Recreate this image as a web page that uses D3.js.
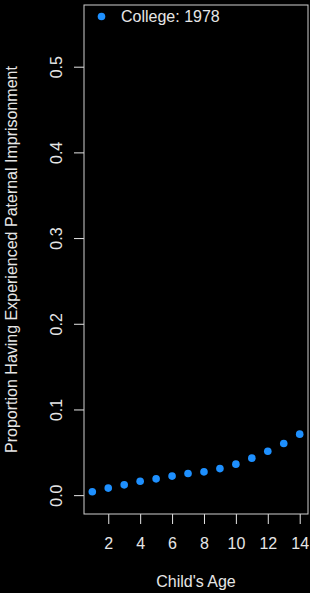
<!DOCTYPE html>
<html>
<head>
<meta charset="utf-8">
<script src="https://cdn.jsdelivr.net/npm/d3@7"></script>
<style>
  body { margin: 0; background: #000; }
  svg { display: block; font-family: "Liberation Sans", Arial, sans-serif; }
</style>
</head>
<body>
<div id="chart"></div>
<script>
// data
var ages = [1, 2, 3, 4, 5, 6, 7, 8, 9, 10, 11, 12, 13, 14];
var proportion = [0.0039, 0.0082, 0.0120, 0.0163, 0.0190, 0.0222, 0.0253, 0.0272, 0.0310, 0.0362, 0.0432, 0.0513, 0.0603, 0.0712];
var xTicks = [2, 4, 6, 8, 10, 12, 14];
var yTicks = [0, 0.1, 0.2, 0.3, 0.4, 0.5];
var seriesName = "College: 1978";

var svg_width = 310, svg_height = 593;
var svg = d3.select("#chart").append("svg")
    .attr("width", svg_width)
    .attr("height", svg_height);

svg.append("rect")
    .attr("width", svg_width)
    .attr("height", svg_height)
    .attr("fill", "#000");

var box = {left: 84, right: 308, top: 5, bottom: 514};

// R style 4% padding around xlim c(1,14) and ylim c(0,0.55)
var x = d3.scaleLinear().domain([0.48, 14.52]).range([box.left, box.right]);
var y = d3.scaleLinear().domain([-0.022, 0.572]).range([box.bottom, box.top]);

var fg = "#e6e6e6";

// x axis
var gx = svg.append("g")
    .attr("transform", "translate(0," + box.bottom + ")")
    .call(d3.axisBottom(x).tickValues(xTicks).tickSize(10).tickFormat(d3.format("d")));
gx.select(".domain").remove();
gx.selectAll("line").attr("stroke", fg);
gx.selectAll("text")
    .attr("y", 35).attr("dy", null)
    .attr("fill", fg)
    .attr("font-size", 16)
    .attr("font-family", "Liberation Sans, Arial, sans-serif");

// y axis
var gy = svg.append("g")
    .attr("transform", "translate(" + box.left + ",0)")
    .call(d3.axisLeft(y).tickValues(yTicks).tickSize(10).tickFormat(d3.format(".1f")));
gy.select(".domain").remove();
gy.selectAll("line").attr("stroke", fg);
gy.selectAll("text")
    .attr("x", null).attr("dy", null)
    .attr("transform", "translate(-22,0) rotate(-90)")
    .attr("text-anchor", "middle")
    .attr("fill", fg)
    .attr("font-size", 16)
    .attr("font-family", "Liberation Sans, Arial, sans-serif");

// frame
svg.append("rect")
    .attr("x", box.left)
    .attr("y", box.top)
    .attr("width", box.right - box.left)
    .attr("height", box.bottom - box.top)
    .attr("fill", "none")
    .attr("stroke", "#cfcfcf")
    .attr("stroke-width", 1);

// points
svg.append("g")
    .selectAll("circle")
    .data(ages)
    .enter().append("circle")
    .attr("cx", function(d) { return x(d); })
    .attr("cy", function(d, i) { return y(proportion[i]); })
    .attr("r", 3.8)
    .attr("fill", "#1e90ff");

// axis titles
svg.append("text")
    .attr("x", (box.left + box.right) / 2)
    .attr("y", 587)
    .attr("text-anchor", "middle")
    .attr("font-size", 16)
    .attr("fill", fg)
    .text("Child's Age");

svg.append("text")
    .attr("transform", "translate(17," + ((box.top + box.bottom) / 2) + ") rotate(-90)")
    .attr("text-anchor", "middle")
    .attr("font-size", 16)
    .attr("fill", fg)
    .text("Proportion Having Experienced Paternal Imprisonment");

// legend
var legend = svg.append("g");
legend.append("circle")
    .attr("cx", 101.5)
    .attr("cy", 16.5)
    .attr("r", 3.8)
    .attr("fill", "#1e90ff");
legend.append("text")
    .attr("x", 121)
    .attr("y", 22)
    .attr("font-size", 16)
    .attr("fill", fg)
    .text(seriesName);
</script>
</body>
</html>
